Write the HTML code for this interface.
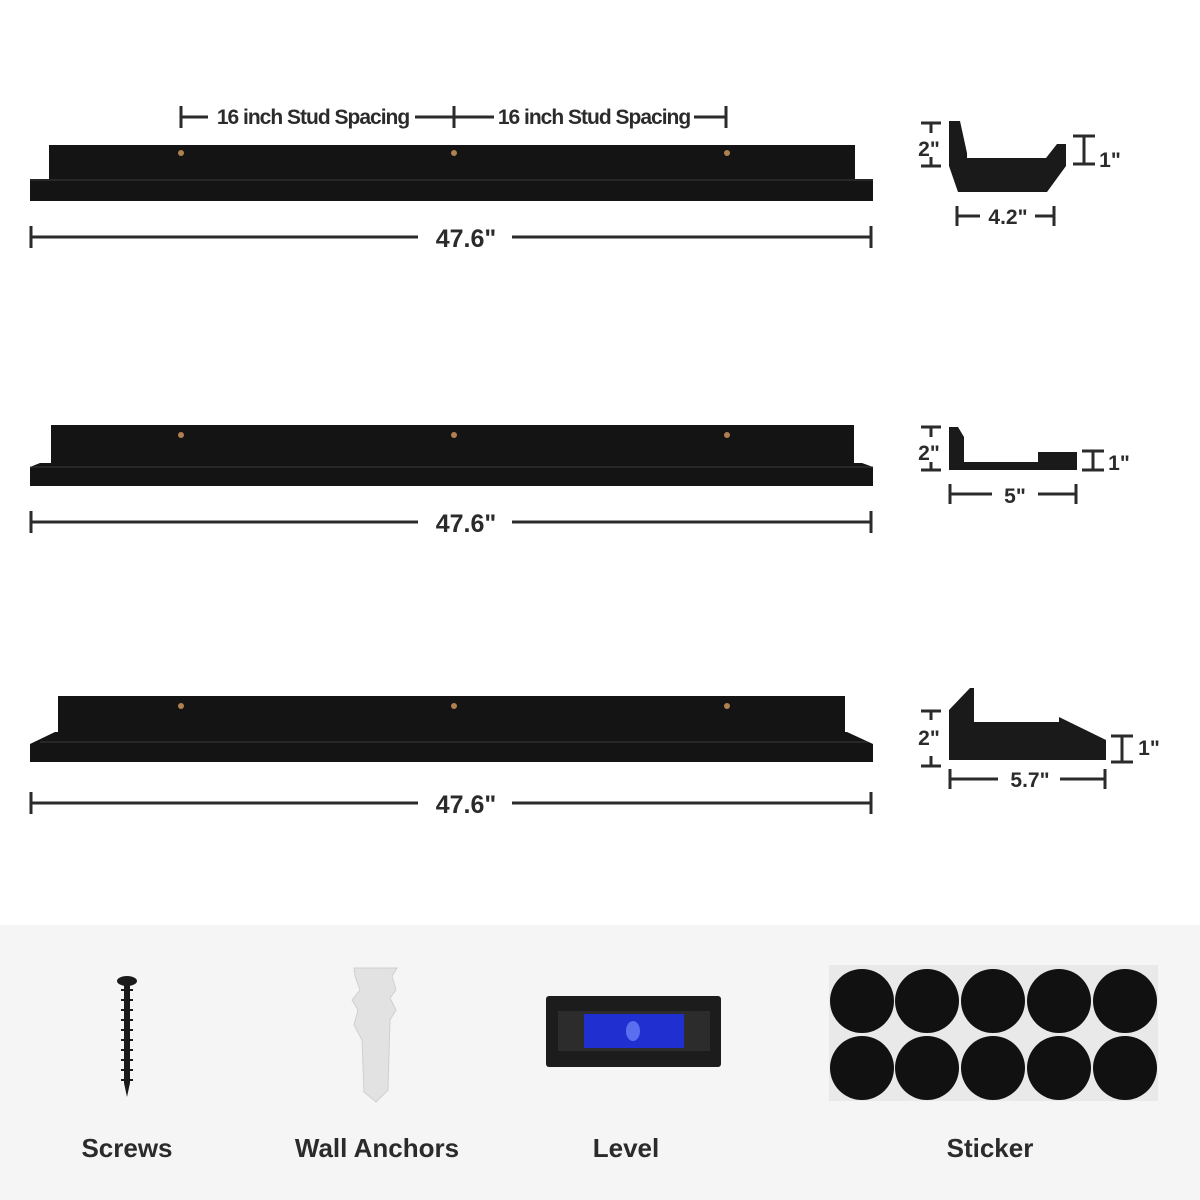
<!DOCTYPE html>
<html><head><meta charset="utf-8"><style>
html,body{margin:0;padding:0;background:#fff}
svg{display:block}
text{font-family:"Liberation Sans",sans-serif;font-weight:bold;fill:#2b2b2b}
</style></head><body>
<svg width="1200" height="1200" viewBox="0 0 1200 1200">
<rect width="1200" height="1200" fill="#fff"/>
<rect y="925" width="1200" height="275" fill="#f5f5f5"/>
<g stroke="#2b2b2b" stroke-width="3" fill="none">
 <line x1="181" y1="106" x2="181" y2="128"/><line x1="181" y1="117" x2="208" y2="117"/>
 <line x1="415" y1="117" x2="494" y2="117"/><line x1="454" y1="106" x2="454" y2="128"/>
 <line x1="694" y1="117" x2="726" y2="117"/><line x1="726" y1="106" x2="726" y2="128"/>
 <line x1="31" y1="226" x2="31" y2="248"/><line x1="31" y1="237" x2="418" y2="237"/><line x1="512" y1="237" x2="871" y2="237"/><line x1="871" y1="226" x2="871" y2="248"/>
 <line x1="31" y1="511" x2="31" y2="533"/><line x1="31" y1="522" x2="418" y2="522"/><line x1="512" y1="522" x2="871" y2="522"/><line x1="871" y1="511" x2="871" y2="533"/>
 <line x1="31" y1="792" x2="31" y2="814"/><line x1="31" y1="803" x2="418" y2="803"/><line x1="512" y1="803" x2="871" y2="803"/><line x1="871" y1="792" x2="871" y2="814"/>
 <line x1="921" y1="123" x2="941" y2="123"/><line x1="931" y1="123" x2="931" y2="133"/><line x1="931" y1="157" x2="931" y2="166"/><line x1="921" y1="166" x2="941" y2="166"/>
 <line x1="1073" y1="136" x2="1095" y2="136"/><line x1="1084" y1="136" x2="1084" y2="164"/><line x1="1073" y1="164" x2="1095" y2="164"/>
 <line x1="957" y1="206" x2="957" y2="226"/><line x1="957" y1="216" x2="980" y2="216"/><line x1="1035" y1="216" x2="1054" y2="216"/><line x1="1054" y1="206" x2="1054" y2="226"/>
 <line x1="921" y1="427" x2="941" y2="427"/><line x1="931" y1="427" x2="931" y2="437"/><line x1="931" y1="462" x2="931" y2="470"/><line x1="921" y1="470" x2="941" y2="470"/>
 <line x1="1082" y1="451" x2="1104" y2="451"/><line x1="1093" y1="451" x2="1093" y2="470"/><line x1="1082" y1="470" x2="1104" y2="470"/>
 <line x1="950" y1="484" x2="950" y2="504"/><line x1="950" y1="494" x2="992" y2="494"/><line x1="1038" y1="494" x2="1076" y2="494"/><line x1="1076" y1="484" x2="1076" y2="504"/>
 <line x1="921" y1="711" x2="941" y2="711"/><line x1="931" y1="711" x2="931" y2="720"/><line x1="931" y1="756" x2="931" y2="766"/><line x1="921" y1="766" x2="941" y2="766"/>
 <line x1="1111" y1="736" x2="1133" y2="736"/><line x1="1122" y1="736" x2="1122" y2="762"/><line x1="1111" y1="762" x2="1133" y2="762"/>
 <line x1="950" y1="769" x2="950" y2="789"/><line x1="950" y1="779" x2="998" y2="779"/><line x1="1060" y1="779" x2="1105" y2="779"/><line x1="1105" y1="769" x2="1105" y2="789"/>
</g>
<g font-size="21" text-anchor="middle" letter-spacing="-1">
 <text x="313" y="124">16 inch Stud Spacing</text>
 <text x="594" y="124">16 inch Stud Spacing</text>
</g>
<g font-size="25" text-anchor="middle">
 <text x="466" y="247">47.6"</text><text x="466" y="532">47.6"</text><text x="466" y="813">47.6"</text>
</g>
<g font-size="21" text-anchor="middle">
 <text x="929" y="156">2"</text><text x="1110" y="167">1"</text><text x="1008" y="224">4.2"</text>
 <text x="929" y="460">2"</text><text x="1119" y="470">1"</text><text x="1015" y="503">5"</text>
 <text x="929" y="745">2"</text><text x="1149" y="755">1"</text><text x="1030" y="787">5.7"</text>
</g>
<g fill="#141414">
 <rect x="49" y="145" width="806" height="35"/>
 <rect x="30" y="179" width="843" height="22"/>
 <rect x="51" y="425" width="803" height="38"/>
 <polygon points="40,463 862,463 873,467 873,486 30,486 30,467"/>
 <rect x="58" y="696" width="787" height="36"/>
 <polygon points="55,732 847,732 873,744 873,762 30,762 30,744"/>
</g>
<g stroke="#3a3a3a" stroke-width="1">
 <line x1="30" y1="180" x2="873" y2="180"/><line x1="30" y1="467" x2="873" y2="467"/><line x1="40" y1="742" x2="868" y2="742"/>
</g>
<g fill="#b08050">
 <circle cx="181" cy="153" r="3"/><circle cx="454" cy="153" r="3"/><circle cx="727" cy="153" r="3"/>
 <circle cx="181" cy="435" r="3"/><circle cx="454" cy="435" r="3"/><circle cx="727" cy="435" r="3"/>
 <circle cx="181" cy="706" r="3"/><circle cx="454" cy="706" r="3"/><circle cx="727" cy="706" r="3"/>
</g>
<g fill="#1a1a1a">
 <polygon points="949,121 960,121 967,153 967,158 1046,158 1057,144 1066,144 1066,166 1047,192 958,192 949,166"/>
 <polygon points="949,427 958,427 964,437 964,462 1038,462 1038,452 1077,452 1077,470 949,470"/>
 <polygon points="949,710 970,688 974,688 974,722 1059,722 1059,717 1106,740 1106,760 949,760"/>
</g>
<g>
 <ellipse cx="127" cy="981" rx="10" ry="5" fill="#1a1a1a"/>
 <rect x="124" y="983" width="6" height="100" fill="#1a1a1a"/>
 <polygon points="124,1083 130,1083 127,1097" fill="#1a1a1a"/>
 <g stroke="#1a1a1a" stroke-width="2">
  <line x1="121" y1="990" x2="133" y2="990"/><line x1="121" y1="1000" x2="133" y2="1000"/><line x1="121" y1="1010" x2="133" y2="1010"/><line x1="121" y1="1020" x2="133" y2="1020"/><line x1="121" y1="1030" x2="133" y2="1030"/><line x1="121" y1="1040" x2="133" y2="1040"/><line x1="121" y1="1050" x2="133" y2="1050"/><line x1="121" y1="1060" x2="133" y2="1060"/><line x1="121" y1="1070" x2="133" y2="1070"/><line x1="121" y1="1080" x2="133" y2="1080"/>
 </g>
 <polygon points="354,968 397,968 392,976 396,990 390,998 396,1010 390,1020 388,1090 376,1102 364,1092 362,1040 354,1025 358,1010 352,1000 360,990 355,976" fill="#e2e2e2" stroke="#cfcfcf"/>
 <rect x="546" y="996" width="175" height="71" rx="3" fill="#1c1c1c"/>
 <rect x="558" y="1011" width="152" height="40" fill="#2c2c2c"/>
 <rect x="584" y="1014" width="100" height="34" fill="#1f2fd0"/>
 <ellipse cx="633" cy="1031" rx="7" ry="10" fill="#5a6ef0"/>
</g>
<rect x="829" y="965" width="329" height="136" fill="#e9e9e9"/>
<g fill="#111">
 <circle cx="862" cy="1001" r="32"/><circle cx="927" cy="1001" r="32"/><circle cx="993" cy="1001" r="32"/><circle cx="1059" cy="1001" r="32"/><circle cx="1125" cy="1001" r="32"/>
 <circle cx="862" cy="1068" r="32"/><circle cx="927" cy="1068" r="32"/><circle cx="993" cy="1068" r="32"/><circle cx="1059" cy="1068" r="32"/><circle cx="1125" cy="1068" r="32"/>
</g>
<g font-size="26" text-anchor="middle">
 <text x="127" y="1157">Screws</text><text x="377" y="1157">Wall Anchors</text><text x="626" y="1157">Level</text><text x="990" y="1157">Sticker</text>
</g>
</svg>
</body></html>
